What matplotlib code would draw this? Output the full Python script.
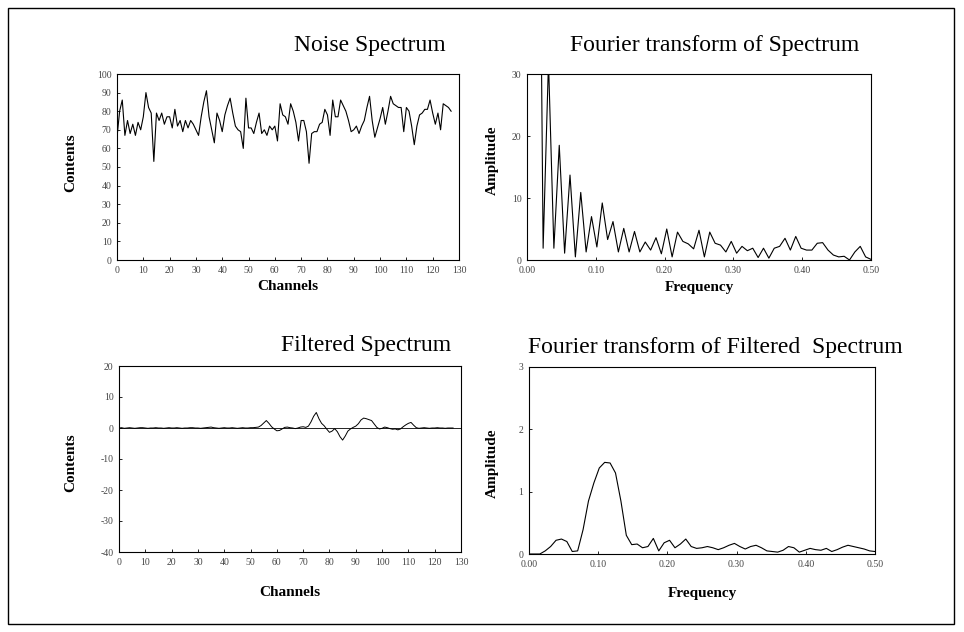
import numpy as np
import matplotlib.pyplot as plt
from matplotlib.patches import Rectangle

plt.rcParams['font.family'] = ['Liberation Serif', 'DejaVu Serif']
plt.rcParams['axes.unicode_minus'] = False

# noise spectrum, channels 0..127
noise = [66, 80, 86, 67, 75, 68, 73, 67, 74, 70, 77, 90, 82, 79, 53, 79,
         75, 79, 73, 77, 77, 71, 81, 72, 75, 69, 75, 71, 75, 73, 70, 67,
         77, 85, 91, 77, 70, 63, 79, 75, 69, 78, 83, 87, 79, 72, 70, 69,
         60, 87, 71, 71, 68, 74, 79, 68, 70, 67, 72, 70, 72, 64, 84, 78,
         77, 73, 84, 80, 74, 64, 75, 75, 69, 52, 68, 69, 69, 73, 74, 81,
         78, 67, 86, 77, 77, 86, 83, 80, 75, 69, 70, 72, 68, 72, 75, 82,
         88, 75, 66, 71, 76, 82, 73, 80, 88, 84, 83, 82, 82, 69, 82, 80,
         72, 62, 72, 78, 79, 81, 81, 86, 79, 73, 79, 70, 84, 83, 82, 80]

# amplitude of FT of the noise spectrum, k = 0..64
amp = [960, 60, 100, 1.9, 32, 1.9, 18.5, 1.1, 13.7, 0.5, 10.9, 1.3, 7.0, 2.1,
       9.2, 3.3, 6.2, 1.3, 5.1, 1.3, 4.6, 1.3, 2.9, 1.6, 3.6, 1.0, 5.0, 0.5,
       4.5, 3.0, 2.6, 1.8, 4.8, 0.5, 4.5, 2.7, 2.4, 1.3, 3.0, 1.1, 2.2, 1.5,
       1.9, 0.4, 1.9, 0.3, 1.9, 2.2, 3.5, 1.6, 3.8, 1.9, 1.6, 1.6, 2.7, 2.8,
       1.6, 0.8, 0.5, 0.6, 0.0, 1.3, 2.2, 0.5, 0.1]

# filtered spectrum, channels 0..127
filt = [0.0, 0.1, -0.1, 0.0, 0.1, 0.0, -0.1, 0.0, 0.1, 0.1, 0.0, -0.1, 0.0, 0.0, 0.1, 0.0,
        0.0, -0.1, 0.0, 0.1, 0.0, 0.0, 0.1, 0.0, -0.1, 0.0, 0.0, 0.1, 0.1, 0.0, 0.0, -0.1,
        0.0, 0.1, 0.2, 0.3, 0.1, 0.0, -0.1, 0.0, 0.1, 0.0, 0.0, 0.1, 0.0, -0.1, 0.0, 0.1,
        0.0, 0.0, 0.1, 0.1, 0.2, 0.3, 0.8, 1.6, 2.4, 1.5, 0.4, -0.3, -0.9, -0.8, -0.3, 0.2,
        0.3, 0.1, 0.0, -0.2, 0.0, 0.3, 0.4, 0.2, 0.6, 2.0, 3.8, 5.0, 3.0, 1.5, 0.7, -0.4,
        -1.4, -1.0, -0.2, -1.2, -2.8, -3.9, -2.6, -1.0, -0.3, 0.2, 0.6, 1.4, 2.6, 3.2, 3.0, 2.7,
        2.4, 1.3, 0.2, -0.3, -0.1, 0.3, 0.1, -0.2, -0.4, -0.3, -0.6, -0.3, 0.4, 1.0, 1.5, 1.8,
        0.9, 0.1, -0.1, 0.0, 0.1, 0.0, -0.1, 0.0, 0.0, 0.1, 0.0, 0.0, -0.1, 0.0, 0.0, 0.0]

# amplitude of FT of the filtered spectrum, k = 0..64
amp_f = [0.0, 0.0, 0.0, 0.05, 0.12, 0.22, 0.24, 0.2, 0.04, 0.05, 0.39, 0.85, 1.14,
         1.38, 1.47, 1.46, 1.30, 0.85, 0.30, 0.15, 0.16, 0.10, 0.12, 0.25, 0.05, 0.18,
         0.22, 0.10, 0.16, 0.24, 0.12, 0.09, 0.10, 0.12, 0.10, 0.07, 0.10, 0.14, 0.17,
         0.12, 0.08, 0.12, 0.14, 0.10, 0.05, 0.04, 0.03, 0.06, 0.12, 0.10, 0.03, 0.06,
         0.09, 0.07, 0.06, 0.09, 0.04, 0.07, 0.11, 0.14, 0.12, 0.10, 0.08, 0.05, 0.04]

chan = np.arange(len(noise))
freq = np.arange(len(amp)) / 128.0

W, H = 964, 632
fig = plt.figure(figsize=(W / 100, H / 100), dpi=100)


def box(l, t, r, b):
    return [l / W, 1 - b / H, (r - l) / W, (b - t) / H]


def style(ax):
    for s in ax.spines.values():
        s.set_linewidth(0.8)
    ax.tick_params(direction='in', length=2.5, width=0.6, labelsize=7,
                   labelcolor='#444444', pad=4)


ax1 = fig.add_axes(box(117, 74, 459, 260))
ax1.plot(chan, noise, color='black', lw=0.8)
ax1.set_xlim(0, 130)
ax1.set_ylim(0, 100)
ax1.set_xticks(range(0, 131, 10))
ax1.set_yticks(range(0, 101, 10))
style(ax1)

ax2 = fig.add_axes(box(527, 74, 871, 260))
ax2.plot(freq, amp, color='black', lw=0.8)
ax2.set_xlim(0, 0.5)
ax2.set_ylim(0, 30)
ax2.set_xticks(np.arange(0, 0.51, 0.1))
ax2.set_xticklabels(['0.00', '0.10', '0.20', '0.30', '0.40', '0.50'])
ax2.set_yticks([0, 10, 20, 30])
style(ax2)

ax3 = fig.add_axes(box(119, 366, 461, 552))
ax3.axhline(0, color='black', lw=0.6)
ax3.plot(chan, filt, color='black', lw=0.7)
ax3.set_xlim(0, 130)
ax3.set_ylim(-40, 20)
ax3.set_xticks(range(0, 131, 10))
ax3.set_yticks(range(-40, 21, 10))
style(ax3)

ax4 = fig.add_axes(box(529, 367, 875, 554))
ax4.plot(freq, amp_f, color='black', lw=0.8)
ax4.set_xlim(0, 0.5)
ax4.set_ylim(0, 3)
ax4.set_xticks(np.arange(0, 0.51, 0.1))
ax4.set_xticklabels(['0.00', '0.10', '0.20', '0.30', '0.40', '0.50'])
ax4.set_yticks([0, 1, 2, 3])
style(ax4)


def ftext(x, y, s, **kw):
    fig.text(x / W, 1 - y / H, s, ha='center', va='center', **kw)


ftext(370, 45, 'Noise Spectrum', fontsize=17)
ftext(715, 45, 'Fourier transform of Spectrum', fontsize=17)
ftext(366, 345, 'Filtered Spectrum', fontsize=17)
ftext(715, 347, 'Fourier transform of Filtered  Spectrum', fontsize=17)

ftext(288, 287, 'Channels', fontsize=11, fontweight='bold')
ftext(290, 592, 'Channels', fontsize=11, fontweight='bold')
ftext(699, 288, 'Frequency', fontsize=11, fontweight='bold')
ftext(702, 593, 'Frequency', fontsize=11, fontweight='bold')
ftext(71, 163, 'Contents', fontsize=11, fontweight='bold', rotation=90)
ftext(71, 463, 'Contents', fontsize=11, fontweight='bold', rotation=90)
ftext(492, 160, 'Amplitude', fontsize=11, fontweight='bold', rotation=90)
ftext(492, 463, 'Amplitude', fontsize=11, fontweight='bold', rotation=90)

fig.patches.append(Rectangle((8 / W, 1 - 624 / H), 946 / W, 616 / H,
                             transform=fig.transFigure, fill=False,
                             edgecolor='black', lw=1.0))

fig.savefig('out.png', dpi=100)
